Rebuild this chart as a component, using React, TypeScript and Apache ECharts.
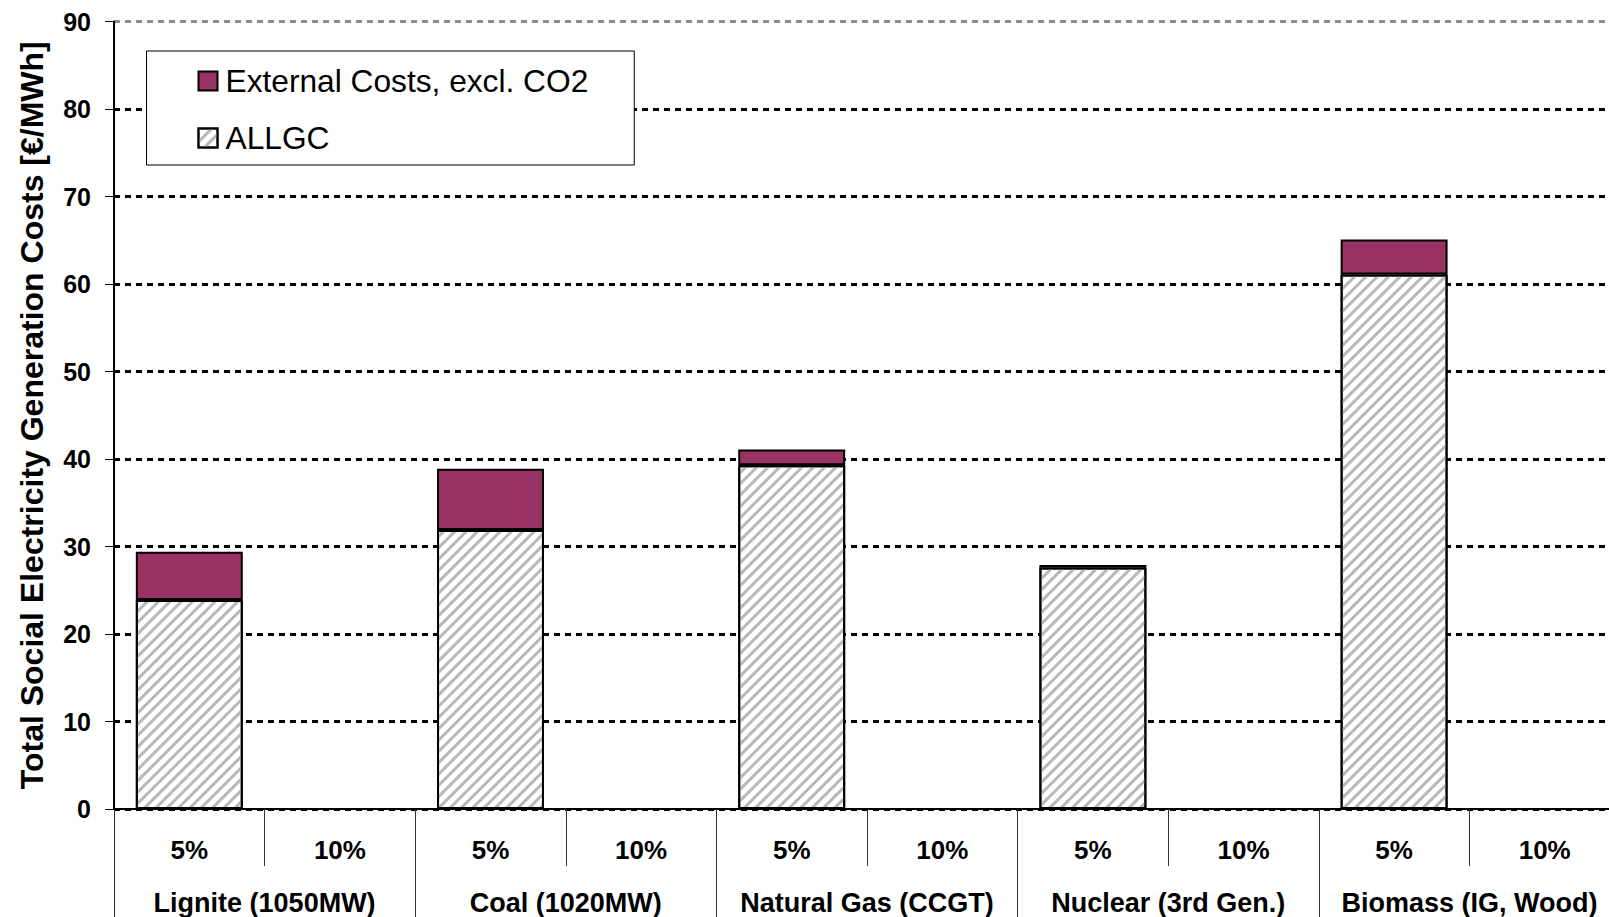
import React, { useEffect, useRef } from "react";
import * as echarts from "echarts";

const subCategories = ["5%", "10%", "5%", "10%", "5%", "10%", "5%", "10%", "5%", "10%"];
const groupCategories = [
  "Lignite (1050MW)",
  "Coal (1020MW)",
  "Natural Gas (CCGT)",
  "Nuclear (3rd Gen.)",
  "Biomass (IG, Wood)",
];
const allgcValues = [23.9, null, 31.9, null, 39.3, null, 27.6, null, 61.1, null];
const externalValues = [5.5, null, 7.0, null, 1.8, null, 0.3, null, 4.0, null];
const yTicks = { min: 0, max: 90, interval: 10 };
const seriesNames = ["External Costs, excl. CO2", "ALLGC"];
const yAxisTitle = "Total Social Electricity Generation Costs [€/MWh]";

const FONT = "'Liberation Sans', Arial, Helvetica, sans-serif";

export default function App() {
  const ref = useRef<HTMLDivElement>(null);
  useEffect(() => {
    if (!ref.current) return;
    const chart = echarts.init(ref.current, null, { renderer: "svg" });
    const gridColors = ["#000", "#000", "#000", "#000", "#000", "#000", "#000", "#000", "#000", "#8c8c8c"];
    chart.setOption({
      animation: false,
      backgroundColor: "#fff",
      textStyle: { fontFamily: FONT },
      grid: {
        left: 114,
        top: 21.5,
        right: -11,
        bottom: 108,
        containLabel: false,
        outerBoundsMode: "none",
      },
      legend: {
        data: seriesNames,
        orient: "vertical",
        left: 146.5,
        top: 51,
        padding: [14, 46, 11, 51],
        itemGap: 25,
        itemWidth: 19,
        itemHeight: 19,
        backgroundColor: "#fff",
        borderColor: "#000",
        borderWidth: 1,
        borderRadius: 0,
        textStyle: { fontSize: 31.7, color: "#000", fontFamily: FONT, padding: [0, 0, 0, 3] },
        icon: "rect",
      },
      xAxis: [
        {
          type: "category",
          data: subCategories,
          position: "bottom",
          axisLine: { show: true, lineStyle: { color: "#000", width: 2 } },
          axisTick: { show: true, length: 57, interval: 0, lineStyle: { color: "#333", width: 1 } },
          axisLabel: {
            interval: 0,
            margin: 28,
            fontSize: 26,
            fontWeight: "bold",
            color: "#000",
            fontFamily: FONT,
          },
          splitLine: { show: false },
        },
        {
          type: "category",
          data: groupCategories,
          position: "bottom",
          offset: 0,
          axisLine: { show: false },
          axisTick: { show: true, length: 130, interval: 0, lineStyle: { color: "#333", width: 1 } },
          axisLabel: {
            interval: 0,
            margin: 80,
            fontSize: 27,
            fontWeight: "bold",
            color: "#000",
            fontFamily: FONT,
          },
          splitLine: { show: false },
        },
      ],
      yAxis: {
        type: "value",
        min: yTicks.min,
        max: yTicks.max,
        interval: yTicks.interval,
        name: yAxisTitle,
        nameLocation: "middle",
        nameGap: 66,
        nameTextStyle: { fontSize: 32, fontWeight: "bold", color: "#000", fontFamily: FONT },
        axisLine: { show: true, lineStyle: { color: "#000", width: 2 } },
        axisTick: { show: true, length: 9, lineStyle: { color: "#000", width: 1 } },
        axisLabel: { margin: 23, fontSize: 25, fontWeight: "bold", color: "#000", fontFamily: FONT },
        splitLine: { show: true, lineStyle: { color: gridColors, width: 3, type: [6, 5] } },
      },
      series: [
        {
          name: seriesNames[1],
          type: "bar",
          stack: "total",
          xAxisIndex: 0,
          barWidth: "71%",
          data: allgcValues,
          itemStyle: {
            color: "#fff",
            borderColor: "#000",
            borderWidth: 2,
            decal: {
              symbol: "rect",
              symbolSize: 1,
              color: "#b8b8b8",
              dashArrayX: [1, 0],
              dashArrayY: [3, 5],
              rotation: -Math.PI / 4,
            },
          },
        },
        {
          name: seriesNames[0],
          type: "bar",
          stack: "total",
          xAxisIndex: 0,
          barWidth: "71%",
          data: externalValues,
          itemStyle: { color: "#993366", borderColor: "#000", borderWidth: 2 },
        },
      ],
    });
    return () => chart.dispose();
  }, []);
  return (
    <div
      ref={ref}
      style={{ position: "fixed", left: 0, top: 0, width: 1609, height: 917, background: "#fff" }}
    />
  );
}
